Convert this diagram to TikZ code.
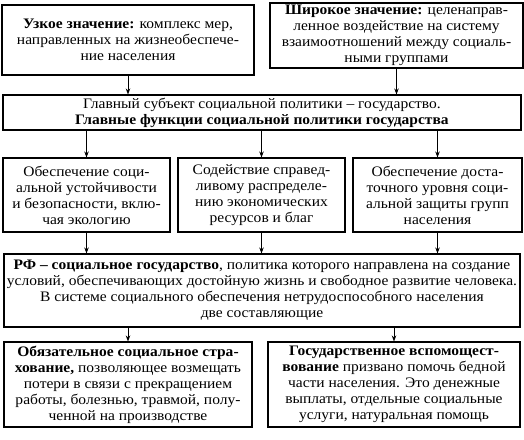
\documentclass[tikz,border=0pt]{standalone}
\usepackage{fontspec}
\setmainfont[FakeStretch=1.07]{Liberation Serif}
\usetikzlibrary{arrows.meta}

\begin{document}
\begin{tikzpicture}[x=1pt,y=-1pt,>={Stealth[length=6pt,width=4.5pt]},
  box/.style={draw,line width=1.1pt,align=center,inner sep=0pt,font=\fontsize{14.5}{16}\selectfont},
  link/.style={->,line width=.8pt}]
\useasboundingbox (0,0) rectangle (524,439);
\node[box,minimum width=252pt,minimum height=70pt] (narrow) at (128,40) {\textbf{Узкое значение:} комплекс мер,\\направленных на жизнеобеспече-\\ние населения};
\node[box,minimum width=253pt,minimum height=65pt] (wide) at (396.5,35.5) {\textbf{Широкое значение:} целенаправ-\\ленное воздействие на систему\\взаимоотношений между социаль-\\ными группами};
\node[box,minimum width=518pt,minimum height=35pt] (main) at (262,112.5) {Главный субъект социальной политики – государство.\\\textbf{Главные функции социальной политики государства}};
\node[box,minimum width=167pt,minimum height=74pt] (fa) at (86.5,195) {Обеспечение соци-\\альной устойчивости\\и безопасности, вклю-\\чая экологию};
\node[box,minimum width=167pt,minimum height=74pt] (fb) at (261.5,195) {Содействие справед-\\ливому распределе-\\нию экономических\\ресурсов и благ};
\node[box,minimum width=169pt,minimum height=74pt] (fc) at (437.5,195) {Обеспечение доста-\\точного уровня соци-\\альной защиты групп\\населения};
\node[box,minimum width=516pt,minimum height=73pt] (rf) at (262,290.5) {\textbf{РФ – социальное государство}, политика которого направлена на создание\\условий, обеспечивающих достойную жизнь и свободное развитие человека.\\В системе социального обеспечения нетрудоспособного населения\\две составляющие};
\node[box,minimum width=248pt,minimum height=85pt] (ins) at (128,384.5) {\textbf{Обязательное социальное стра-}\\\textbf{хование,} позволяющее возмещать\\потери в связи с прекращением\\работы, болезнью, травмой, полу-\\ченной на производстве};
\node[box,minimum width=252pt,minimum height=85pt] (aid) at (394,384.5) {\textbf{Государственное вспомощест-}\\\textbf{вование} призвано помочь бедной\\части населения. Это денежные\\выплаты, отдельные социальные\\услуги, натуральная помощь};
\draw[link] (narrow.south) -- (narrow.south |- main.north);
\draw[link] (wide.south) -- (wide.south |- main.north);
\foreach \n in {fa,fb,fc} \draw[link] (\n.north |- main.south) -- (\n.north);
\foreach \n in {fa,fb,fc} \draw[link] (\n.south) -- (\n.south |- rf.north);
\foreach \n in {ins,aid} \draw[link] (\n.north |- rf.south) -- (\n.north);
\end{tikzpicture}
\end{document}
